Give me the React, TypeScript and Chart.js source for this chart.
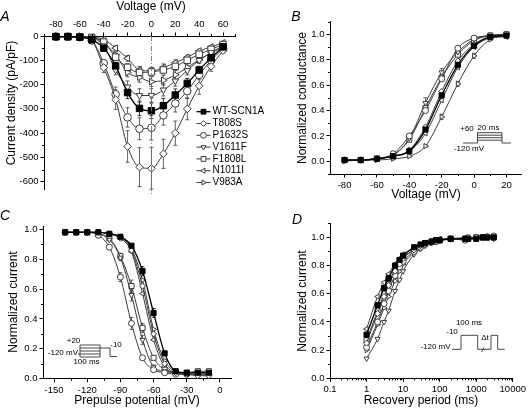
import React, { useEffect, useRef } from 'react';
import { Chart, registerables } from 'chart.js';
import { drawPoint } from 'chart.js/helpers';

Chart.register(...registerables);

const FONT = '"Liberation Sans", Arial, Helvetica, sans-serif';

// ---------------- data ----------------
const SERIES_NAMES = ['WT-SCN1A', 'T808S', 'P1632S', 'V1611F', 'F1808L', 'N1011I', 'V983A'];

// Panel A: current density (pA/pF) vs voltage (mV)
const A_VOLTAGE = [-80, -70, -60, -50, -40, -30, -20, -10, 0, 10, 20, 30, 40, 50, 60];
const A_WT = [-3, -3, -5, -15, -50, -123, -233, -298, -308, -287, -243, -195, -140, -90, -45];
const A_T808S = [-3, -3, -5, -20, -130, -262, -455, -540, -545, -485, -400, -300, -205, -125, -60];
const A_P1632S = [-3, -3, -5, -18, -112, -240, -335, -382, -378, -327, -278, -227, -160, -100, -52];
const A_V1611F = [-2, -2, -3, -8, -40, -140, -210, -245, -245, -222, -185, -142, -100, -68, -40];
const A_F1808L = [-2, -2, -3, -6, -25, -87, -129, -150, -148, -140, -125, -100, -75, -55, -35];
const A_N1011I = [-2, -2, -3, -5, -14, -50, -92, -140, -144, -130, -110, -88, -62, -45, -28];
const A_V983A = [-2, -2, -3, -6, -28, -78, -150, -170, -188, -182, -160, -130, -98, -70, -45];
const A_WT_ERR = [0, 0, 0, 3, 8, 15, 25, 30, 32, 30, 25, 20, 15, 10, 5];
const A_T808S_ERR = [0, 0, 1, 5, 20, 40, 65, 80, 85, 60, 50, 45, 35, 20, 10];
const A_P1632S_ERR = [0, 0, 1, 4, 15, 30, 40, 45, 50, 40, 35, 30, 20, 15, 8];
const A_V1611F_ERR = [0, 0, 0, 3, 10, 20, 25, 28, 28, 25, 22, 18, 12, 8, 5];
const A_F1808L_ERR = [0, 0, 0, 2, 6, 12, 15, 18, 18, 16, 15, 12, 10, 6, 4];
const A_N1011I_ERR = [0, 0, 0, 2, 5, 10, 12, 15, 15, 15, 12, 10, 8, 5, 3];
const A_V983A_ERR = [0, 0, 0, 2, 6, 12, 18, 20, 20, 20, 18, 15, 10, 8, 5];
const A_X_LABELS = [-80, -60, -40, -20, 0, 20, 40, 60];
const A_Y_LABELS = [0, -100, -200, -300, -400, -500, -600];
const A_ZERO_LINE = 0;

// Panel B: normalized conductance vs voltage (mV)
const B_VOLTAGE = [-80, -70, -60, -50, -40, -30, -20, -10, 0, 10, 20];
const B_WT = [0.01, 0.01, 0.02, 0.04, 0.08, 0.25, 0.52, 0.76, 0.91, 0.98, 0.99];
const B_T808S = [0.01, 0.01, 0.02, 0.04, 0.09, 0.27, 0.55, 0.79, 0.92, 0.98, 0.99];
const B_P1632S = [0.01, 0.01, 0.02, 0.06, 0.2, 0.4, 0.65, 0.89, 0.97, 0.99, 1.0];
const B_V1611F = [0.01, 0.01, 0.02, 0.05, 0.18, 0.46, 0.7, 0.86, 0.96, 0.99, 1.0];
const B_F1808L = [0.01, 0.01, 0.02, 0.05, 0.17, 0.42, 0.66, 0.84, 0.95, 0.99, 1.0];
const B_N1011I = [0.01, 0.01, 0.02, 0.04, 0.08, 0.22, 0.48, 0.74, 0.9, 0.97, 0.98];
const B_V983A = [0.0, 0.01, 0.01, 0.02, 0.04, 0.12, 0.35, 0.61, 0.83, 0.96, 0.99];
const B_V1611F_ERR = [0, 0, 0, 0.01, 0.02, 0.04, 0.03, 0.02, 0.01, 0, 0];
const B_V983A_ERR = [0, 0, 0, 0, 0.01, 0.01, 0.02, 0.02, 0.02, 0.01, 0];
const B_X_LABELS = [-80, -60, -40, -20, 0, 20];
const B_Y_LABELS = [0, 0.2, 0.4, 0.6, 0.8, 1.0];

// Panel C: normalized current vs prepulse potential (mV)
const C_VOLTAGE = [-140, -130, -120, -110, -100, -90, -80, -70, -60, -50, -40, -30, -20, -10];
const C_WT = [0.98, 0.98, 0.98, 0.98, 0.97, 0.95, 0.89, 0.72, 0.44, 0.17, 0.05, 0.04, 0.04, 0.04];
const C_T808S = [0.98, 0.98, 0.98, 0.98, 0.97, 0.94, 0.86, 0.62, 0.3, 0.1, 0.04, 0.03, 0.02, 0.02];
const C_P1632S = [0.98, 0.98, 0.98, 0.96, 0.88, 0.68, 0.37, 0.14, 0.06, 0.04, 0.03, 0.03, 0.03, 0.03];
const C_V1611F = [0.98, 0.98, 0.98, 0.97, 0.93, 0.81, 0.56, 0.26, 0.08, 0.05, 0.04, 0.04, 0.04, 0.04];
const C_F1808L = [0.98, 0.98, 0.98, 0.97, 0.94, 0.82, 0.62, 0.34, 0.14, 0.06, 0.04, 0.04, 0.05, 0.05];
const C_N1011I = [0.98, 0.98, 0.98, 0.98, 0.97, 0.94, 0.85, 0.57, 0.26, 0.08, 0.04, 0.03, 0.03, 0.03];
const C_V983A = [0.98, 0.98, 0.98, 0.98, 0.97, 0.95, 0.87, 0.66, 0.33, 0.12, 0.05, 0.04, 0.04, 0.04];
const C_WT_ERR = [0, 0, 0, 0, 0, 0.01, 0.01, 0.03, 0.03, 0.01, 0, 0, 0, 0];
const C_P1632S_ERR = [0, 0, 0, 0, 0.01, 0.03, 0.04, 0.01, 0.01, 0, 0, 0, 0, 0];
const C_V1611F_ERR = [0, 0, 0, 0, 0, 0.02, 0.04, 0.03, 0.01, 0, 0, 0, 0, 0];
const C_F1808L_ERR = [0, 0, 0, 0, 0.01, 0.02, 0.04, 0.03, 0.01, 0, 0, 0, 0.01, 0.01];
const C_X_LABELS = [-150, -120, -90, -60, -30, 0];
const C_Y_LABELS = [0, 0.2, 0.4, 0.6, 0.8, 1.0];

// Panel D: normalized current vs recovery period (ms)
const D_TIME = [1, 2, 3, 4, 6, 8, 10, 20, 30, 40, 60, 80, 100, 200, 500, 600, 1000, 1500, 2000, 3000];
const D_WT = [0.31, 0.52, 0.64, 0.71, 0.8, 0.84, 0.87, 0.93, 0.95, 0.96, 0.97, 0.98, 0.98, 0.99, 0.99, 0.99, 0.99, 1.0, 1.0, 1.0];
const D_T808S = [0.25, 0.46, 0.58, 0.66, 0.76, 0.81, 0.85, 0.91, 0.94, 0.95, 0.97, 0.98, 0.98, 0.99, 0.99, 1.0, 1.0, 1.0, 1.01, 1.0];
const D_P1632S = [0.22, 0.4, 0.53, 0.62, 0.73, 0.79, 0.83, 0.9, 0.93, 0.95, 0.97, 0.97, 0.98, 0.99, 0.98, 0.99, 1.0, 1.0, 1.0, 1.01];
const D_V1611F = [0.14, 0.28, 0.4, 0.48, 0.62, 0.7, 0.76, 0.88, 0.92, 0.94, 0.96, 0.97, 0.98, 0.99, 0.99, 0.99, 0.99, 1.0, 1.0, 0.99];
const D_F1808L = [0.27, 0.48, 0.6, 0.67, 0.77, 0.82, 0.86, 0.91, 0.94, 0.96, 0.97, 0.98, 0.98, 0.99, 0.99, 0.99, 1.0, 1.0, 1.0, 1.0];
const D_N1011I = [0.35, 0.58, 0.68, 0.74, 0.81, 0.85, 0.88, 0.92, 0.94, 0.96, 0.97, 0.98, 0.99, 0.99, 1.0, 1.0, 1.0, 1.0, 1.0, 1.0];
const D_V983A = [0.2, 0.38, 0.5, 0.58, 0.69, 0.76, 0.81, 0.89, 0.92, 0.95, 0.96, 0.97, 0.98, 0.99, 0.99, 0.99, 1.0, 1.0, 1.0, 1.0];
const D_X_LABELS = [0.1, 1, 10, 100, 1000, 10000];
const D_Y_LABELS = [0, 0.2, 0.4, 0.6, 0.8, 1.0];

// ---------------- styles ----------------
const MARKERS = [
  { pointStyle: 'rect', rotation: 0, fill: '#000000', stroke: '#000000', line: '#000000', width: 1.3 },
  { pointStyle: 'rectRot', rotation: 0, fill: '#ffffff', stroke: '#3c3c3c', line: '#3c3c3c', width: 1 },
  { pointStyle: 'circle', rotation: 0, fill: '#ffffff', stroke: '#3c3c3c', line: '#3c3c3c', width: 1 },
  { pointStyle: 'triangle', rotation: 180, fill: '#ffffff', stroke: '#3c3c3c', line: '#3c3c3c', width: 1 },
  { pointStyle: 'rect', rotation: 0, fill: '#ffffff', stroke: '#3c3c3c', line: '#3c3c3c', width: 1 },
  { pointStyle: 'triangle', rotation: 270, fill: '#ffffff', stroke: '#3c3c3c', line: '#3c3c3c', width: 1 },
  { pointStyle: 'triangle', rotation: 90, fill: '#ffffff', stroke: '#3c3c3c', line: '#3c3c3c', width: 1 },
];

type Txt = { text: string; x: number; y: number; size: number; rot?: number; italic?: boolean; align?: CanvasTextAlign };

function buildDatasets(xs: number[], series: number[][], errors: (number[] | null)[], radius: number) {
  return series.map((vals, i) => {
    const m = MARKERS[i];
    return {
      label: SERIES_NAMES[i],
      data: xs.map((x, k) => ({ x, y: vals[k] })),
      errors: errors[i],
      borderColor: m.line,
      borderWidth: m.width,
      pointStyle: m.pointStyle,
      pointRotation: m.rotation,
      pointRadius: m.pointStyle === 'rect' ? radius * 1.2 : radius,
      pointBackgroundColor: m.fill,
      pointBorderColor: m.stroke,
      pointBorderWidth: 1,
      cubicInterpolationMode: 'monotone',
      fill: false,
      clip: false,
    };
  });
}

function axis(o: {
  type?: string; position: string; min: number; max: number; step?: number;
  labels: number[]; fmt: (v: number) => string; size: number; horizontal: boolean;
}) {
  const isMajor = (v: number) => o.labels.some((l) => Math.abs(l - v) < 1e-6 * Math.max(1, Math.abs(l)));
  return {
    type: o.type || 'linear',
    position: o.position,
    min: o.min,
    max: o.max,
    border: { display: true, color: '#000', width: 1 },
    grid: {
      display: true, drawOnChartArea: false, drawTicks: true, tickLength: 3.5, tickWidth: 1,
      tickColor: (c: any) => (c.tick && isMajor(c.tick.value) ? '#000' : 'rgba(0,0,0,0)'),
    },
    ticks: {
      ...(o.step ? { stepSize: o.step } : {}),
      autoSkip: false, maxRotation: 0, minRotation: 0, includeBounds: false, maxTicksLimit: 1000,
      padding: 2, color: '#000', font: { family: FONT, size: 9.5 },
      callback: (v: any) => (isMajor(Number(v)) ? o.fmt(Number(v)) : ''),
    },
    afterBuildTicks: (s: any) => {
      if (o.step) {
        const st = o.step;
        s.ticks = s.ticks.filter((t: any) => {
          const q = t.value / st;
          return Math.abs(q - Math.round(q)) < 1e-6 && t.value >= o.min - 1e-9 && t.value <= o.max + 1e-9;
        });
      } else {
        s.ticks = s.ticks.filter((t: any) => {
          const e = Math.floor(Math.log10(t.value) + 1e-9);
          const m = t.value / Math.pow(10, e);
          return Math.abs(m - Math.round(m)) < 1e-6 && t.value <= o.max * 1.0001;
        });
      }
    },
    afterFit: (s: any) => {
      if (o.horizontal) s.height = o.size;
      else s.width = o.size;
    },
  };
}

const errorBars = {
  id: 'errorBars',
  beforeDatasetsDraw(chart: any) {
    const ctx = chart.ctx;
    const ys = chart.scales.y;
    chart.data.datasets.forEach((ds: any, i: number) => {
      if (!ds.errors) return;
      const meta = chart.getDatasetMeta(i);
      ctx.save();
      ctx.strokeStyle = ds.pointBorderColor;
      ctx.lineWidth = 0.8;
      meta.data.forEach((pt: any, j: number) => {
        const e = ds.errors[j];
        if (!e) return;
        const v = ds.data[j].y;
        const y1 = ys.getPixelForValue(v + e);
        const y2 = ys.getPixelForValue(v - e);
        ctx.beginPath();
        ctx.moveTo(pt.x, y1); ctx.lineTo(pt.x, y2);
        ctx.moveTo(pt.x - 2, y1); ctx.lineTo(pt.x + 2, y1);
        ctx.moveTo(pt.x - 2, y2); ctx.lineTo(pt.x + 2, y2);
        ctx.stroke();
      });
      ctx.restore();
    });
  },
};

const minorTicks = {
  id: 'minorTicks',
  afterDraw(chart: any) {
    const ctx = chart.ctx;
    ctx.save();
    ctx.strokeStyle = '#000';
    ctx.lineWidth = 1;
    Object.values(chart.scales).forEach((s: any) => {
      s.ticks.forEach((t: any, i: number) => {
        if (t.label !== '') return;
        const p = Math.round(s.getPixelForTick(i)) + 0.5;
        ctx.beginPath();
        if (s.isHorizontal()) {
          if (s.position === 'top') { ctx.moveTo(p, s.bottom); ctx.lineTo(p, s.bottom - 2); }
          else { ctx.moveTo(p, s.top); ctx.lineTo(p, s.top + 2); }
        } else {
          ctx.moveTo(s.right, p); ctx.lineTo(s.right - 2, p);
        }
        ctx.stroke();
      });
    });
    ctx.restore();
  },
};

function drawTexts(ctx: CanvasRenderingContext2D, items: Txt[], offX: number, offY: number) {
  items.forEach((t) => {
    ctx.save();
    ctx.font = `${t.italic ? 'italic ' : ''}${t.size}px ${FONT}`;
    ctx.fillStyle = '#000';
    ctx.textAlign = t.align || 'center';
    ctx.textBaseline = 'middle';
    ctx.translate(t.x - offX, t.y - offY);
    if (t.rot) ctx.rotate((t.rot * Math.PI) / 180);
    ctx.fillText(t.text, 0, 0);
    ctx.restore();
  });
}

function drawPolylines(ctx: CanvasRenderingContext2D, lines: number[][], offX: number, offY: number) {
  ctx.save();
  ctx.strokeStyle = '#333';
  ctx.lineWidth = 0.9;
  lines.forEach((pts) => {
    ctx.beginPath();
    for (let k = 0; k < pts.length; k += 2) {
      const x = pts[k] - offX;
      const y = pts[k + 1] - offY;
      if (k === 0) ctx.moveTo(x, y);
      else ctx.lineTo(x, y);
    }
    ctx.stroke();
  });
  ctx.restore();
}

function overlay(offX: number, offY: number, texts: Txt[], lines: number[][], extra?: (chart: any) => void) {
  return {
    id: 'overlay',
    afterDraw(chart: any) {
      const ctx = chart.ctx;
      drawPolylines(ctx, lines, offX, offY);
      drawTexts(ctx, texts, offX, offY);
      if (extra) extra(chart);
    },
  };
}

// ---------------- layout of the four panels ----------------
const LEGEND = { x0: 196.5, x1: 210.5, xm: 203.5, xt: 212.5, y0: 111.7, dy: 11.8 };

function legendDrawer(chart: any) {
  const ctx = chart.ctx;
  ctx.save();
  chart.data.datasets.forEach((ds: any, i: number) => {
    const y = LEGEND.y0 + i * LEGEND.dy;
    ctx.strokeStyle = ds.borderColor;
    ctx.lineWidth = ds.borderWidth;
    ctx.beginPath();
    ctx.moveTo(LEGEND.x0, y);
    ctx.lineTo(LEGEND.x1, y);
    ctx.stroke();
    ctx.fillStyle = ds.pointBackgroundColor;
    ctx.strokeStyle = ds.pointBorderColor;
    ctx.lineWidth = 1;
    drawPoint(ctx, { pointStyle: ds.pointStyle, rotation: ds.pointRotation, radius: ds.pointStyle === 'rect' ? 3.4 : 2.9, borderWidth: 1 } as any, LEGEND.xm, y);
    ctx.fillStyle = '#000';
    ctx.font = `10px ${FONT}`;
    ctx.textAlign = 'left';
    ctx.textBaseline = 'middle';
    ctx.fillText(ds.label, LEGEND.xt, y);
  });
  ctx.restore();
}

function zeroLineDrawer(chart: any) {
  const ctx = chart.ctx;
  const x = Math.round(chart.scales.x.getPixelForValue(A_ZERO_LINE)) + 0.5;
  ctx.save();
  ctx.strokeStyle = '#777';
  ctx.lineWidth = 0.9;
  ctx.setLineDash([5, 2, 1, 2]);
  ctx.beginPath();
  ctx.moveTo(x, chart.chartArea.top);
  ctx.lineTo(x, chart.chartArea.bottom + 5);
  ctx.stroke();
  ctx.restore();
}

const fmtInt = (v: number) => String(Math.round(v));
const fmt1 = (v: number) => v.toFixed(1);
const fmtLog = (v: number) => (v < 1 ? v.toFixed(1) : String(Math.round(v)));

type PanelSpec = { x: number; y: number; w: number; h: number; config: () => any };

const PANELS: PanelSpec[] = [
  {
    x: 0, y: 0, w: 264, h: 205,
    config: () => ({
      type: 'line',
      data: {
        datasets: buildDatasets(
          A_VOLTAGE,
          [A_WT, A_T808S, A_P1632S, A_V1611F, A_F1808L, A_N1011I, A_V983A],
          [A_WT_ERR, A_T808S_ERR, A_P1632S_ERR, A_V1611F_ERR, A_F1808L_ERR, A_N1011I_ERR, A_V983A_ERR],
          3.8,
        ),
      },
      options: {
        responsive: false, animation: false, events: [],
        layout: { padding: { left: 0, top: 0, right: 29, bottom: 16 } },
        plugins: { legend: { display: false }, tooltip: { enabled: false } },
        scales: {
          x: axis({ position: 'top', min: -90, max: 70, step: 10, labels: A_X_LABELS, fmt: fmtInt, size: 36, horizontal: true }),
          y: axis({ position: 'left', min: -630, max: 0, step: 50, labels: A_Y_LABELS, fmt: fmtInt, size: 44, horizontal: false }),
        },
      },
      plugins: [
        errorBars, minorTicks,
        overlay(0, 0, [
          { text: 'Voltage (mV)', x: 151, y: 6.5, size: 12 },
          { text: 'Current density (pA/pF)', x: 12, y: 103, size: 12, rot: -90 },
          { text: 'A', x: 5, y: 17, size: 14, italic: true },
        ], [], (chart) => { zeroLineDrawer(chart); legendDrawer(chart); }),
      ],
    }),
  },
  {
    x: 264, y: 0, w: 264, h: 205,
    config: () => ({
      type: 'line',
      data: {
        datasets: buildDatasets(
          B_VOLTAGE,
          [B_WT, B_T808S, B_P1632S, B_V1611F, B_F1808L, B_N1011I, B_V983A],
          [null, null, null, B_V1611F_ERR, null, null, B_V983A_ERR],
          3,
        ),
      },
      options: {
        responsive: false, animation: false, events: [],
        layout: { padding: { left: 0, top: 21.6, right: 7, bottom: 0 } },
        plugins: { legend: { display: false }, tooltip: { enabled: false } },
        scales: {
          x: axis({ position: 'bottom', min: -89, max: 29, step: 10, labels: B_X_LABELS, fmt: fmtInt, size: 31, horizontal: true }),
          y: axis({ position: 'left', min: -0.1, max: 1.1, step: 0.1, labels: B_Y_LABELS, fmt: fmt1, size: 66, horizontal: false }),
        },
      },
      plugins: [
        errorBars, minorTicks,
        overlay(264, 0, [
          { text: 'Voltage (mV)', x: 426, y: 195, size: 12 },
          { text: 'Normalized conductance', x: 303, y: 98, size: 12, rot: -90 },
          { text: 'B', x: 296, y: 17, size: 14, italic: true },
          { text: '+60', x: 467, y: 129, size: 8 },
          { text: '20 ms', x: 488.5, y: 127.5, size: 8 },
          { text: '-120 mV', x: 469, y: 148.5, size: 8 },
        ], [
          [463, 143, 477.5, 143, 477.5, 132.7, 502, 132.7, 502, 143, 511, 143],
          [477.5, 135.2, 502, 135.2],
          [477.5, 137.7, 502, 137.7],
          [477.5, 140.2, 502, 140.2],
        ]),
      ],
    }),
  },
  {
    x: 0, y: 205, w: 264, h: 206,
    config: () => ({
      type: 'line',
      data: {
        datasets: buildDatasets(
          C_VOLTAGE,
          [C_WT, C_T808S, C_P1632S, C_V1611F, C_F1808L, C_N1011I, C_V983A],
          [C_WT_ERR, null, C_P1632S_ERR, C_V1611F_ERR, C_F1808L_ERR, null, null],
          3,
        ),
      },
      options: {
        responsive: false, animation: false, events: [],
        layout: { padding: { left: 0, top: 21.3, right: 33, bottom: 0 } },
        plugins: { legend: { display: false }, tooltip: { enabled: false } },
        scales: {
          x: axis({ position: 'bottom', min: -160, max: 10, step: 15, labels: C_X_LABELS, fmt: fmtInt, size: 32.3, horizontal: true }),
          y: axis({ position: 'left', min: 0, max: 1.02, step: 0.1, labels: C_Y_LABELS, fmt: fmt1, size: 43, horizontal: false }),
        },
      },
      plugins: [
        errorBars, minorTicks,
        overlay(0, 205, [
          { text: 'Prepulse potential (mV)', x: 137, y: 401, size: 12 },
          { text: 'Normalized current', x: 14, y: 302, size: 12, rot: -90 },
          { text: 'C', x: 5, y: 216, size: 14, italic: true },
          { text: '+20', x: 73.5, y: 341, size: 8 },
          { text: '-120 mV', x: 78, y: 352.5, size: 8, align: 'right' },
          { text: '100 ms', x: 86.5, y: 361.5, size: 8 },
          { text: '-10', x: 116, y: 344.5, size: 8 },
        ], [
          [80, 345, 100, 345],
          [80, 348, 100, 348],
          [80, 351, 100, 351],
          [78, 354, 100, 354],
          [80, 357, 100, 357],
          [80, 345, 80, 357],
          [100, 345, 100, 357],
          [100, 348, 110, 348, 110, 356.5, 117, 356.5],
        ]),
      ],
    }),
  },
  {
    x: 264, y: 205, w: 264, h: 206,
    config: () => ({
      type: 'line',
      data: {
        datasets: buildDatasets(
          D_TIME,
          [D_WT, D_T808S, D_P1632S, D_V1611F, D_F1808L, D_N1011I, D_V983A],
          [null, null, null, null, null, null, null],
          3,
        ),
      },
      options: {
        responsive: false, animation: false, events: [],
        layout: { padding: { left: 0, top: 18.3, right: 14.5, bottom: 0 } },
        plugins: { legend: { display: false }, tooltip: { enabled: false } },
        scales: {
          x: axis({ type: 'logarithmic', position: 'bottom', min: 0.1, max: 10000, labels: D_X_LABELS, fmt: fmtLog, size: 32.7, horizontal: true }),
          y: axis({ position: 'left', min: 0, max: 1.1, step: 0.1, labels: D_Y_LABELS, fmt: fmt1, size: 66, horizontal: false }),
        },
      },
      plugins: [
        errorBars, minorTicks,
        overlay(264, 205, [
          { text: 'Recovery period (ms)', x: 421, y: 401, size: 12 },
          { text: 'Normalized current', x: 303, y: 301, size: 12, rot: -90 },
          { text: 'D', x: 297, y: 220, size: 14, italic: true },
          { text: '100 ms', x: 469, y: 323, size: 8 },
          { text: '-10', x: 452, y: 332, size: 8 },
          { text: '-120 mV', x: 435.5, y: 346.5, size: 8 },
          { text: 'Δt', x: 485, y: 338, size: 8 },
        ], [
          [452, 349.3, 461, 349.3, 461, 335.3, 477.7, 335.3, 477.7, 349.3, 491, 349.3, 491, 335.3, 497.7, 335.3, 497.7, 349.3, 504.7, 349.3],
          [484, 347.5, 481.5, 352],
        ]),
      ],
    }),
  },
];

function Panel({ spec }: { spec: PanelSpec }) {
  const ref = useRef<HTMLCanvasElement>(null);
  useEffect(() => {
    const chart = new Chart(ref.current as HTMLCanvasElement, spec.config());
    return () => chart.destroy();
  }, [spec]);
  return (
    <canvas
      ref={ref}
      width={spec.w}
      height={spec.h}
      style={{ position: 'absolute', left: spec.x, top: spec.y, width: spec.w, height: spec.h }}
    />
  );
}

export default function App() {
  return (
    <div style={{ position: 'fixed', left: 0, top: 0, width: 528, height: 411, background: '#ffffff', overflow: 'hidden' }}>
      {PANELS.map((p, i) => (
        <Panel key={i} spec={p} />
      ))}
    </div>
  );
}
